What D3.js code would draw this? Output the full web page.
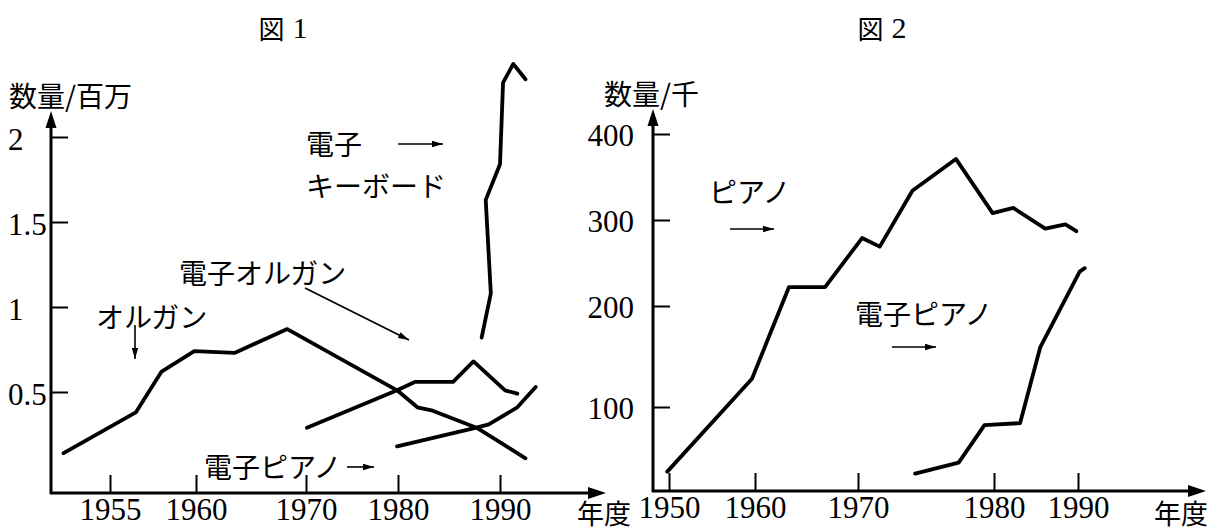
<!DOCTYPE html>
<html>
<head>
<meta charset="utf-8">
<script src="https://cdn.jsdelivr.net/npm/d3@7"></script>
<style>
  html, body { margin: 0; padding: 0; background: #fff; }
  svg { display: block; }
</style>
</head>
<body>
<svg id="chart" width="1223" height="531"></svg>
<script>
// ---------------- DATA ----------------
// 図1 (数量/百万)
const fig1XTicks = [1955, 1960, 1970, 1980, 1990];
const fig1YTicks = [0.5, 1, 1.5, 2];

const organYears = [1952.3, 1956.5, 1958.0, 1959.9, 1963.5, 1968.3, 1979.9, 1981.9, 1983.4, 1987.7, 1992.5];
const organVals  = [0.14, 0.38, 0.62, 0.74, 0.73, 0.87, 0.51, 0.41, 0.39, 0.29, 0.11];

const eOrganYears = [1970.1, 1979.9, 1981.7, 1985.4, 1987.4, 1990.5, 1991.7];
const eOrganVals  = [0.29, 0.51, 0.56, 0.56, 0.68, 0.51, 0.49];

const ePiano1Years = [1979.9, 1987.7, 1988.9, 1991.7, 1993.5];
const ePiano1Vals  = [0.18, 0.29, 0.31, 0.41, 0.53];

const keyboardYears = [1988.2, 1989.1, 1988.6, 1990.0, 1990.3, 1991.3, 1992.5];
const keyboardVals  = [0.82, 1.08, 1.63, 1.84, 2.32, 2.43, 2.34];

// 図2 (数量/千)
const fig2XTicks = [1950, 1960, 1970, 1980, 1990];
const fig2YTicks = [100, 200, 300, 400];

const pianoYears = [1949.8, 1959.65, 1963.3, 1966.8, 1970.3, 1971.6, 1974.0, 1977.2, 1979.9, 1982.3, 1986.1, 1988.5, 1989.8];
const pianoVals  = [36, 128, 222, 222, 279, 269, 334, 371, 308, 314, 290, 295, 287];

const ePiano2Years = [1974.2, 1977.4, 1979.3, 1983.1, 1985.5, 1990.2, 1990.8];
const ePiano2Vals  = [34, 45, 82, 84, 159, 240, 244];

// Text
const titles = ["図 1", "図 2"];
const yLabels = ["数量/百万", "数量/千"];
const xLabel = "年度";

// ---------------- DRAW ----------------
const svg = d3.select("#chart");
const JP = "'Noto Sans CJK JP', 'Noto Sans CJK SC', sans-serif";
const NUM = "'Liberation Serif', 'DejaVu Serif', serif";
const NUMSIZE = 31;

const defs = svg.append("defs");
defs.append("marker").attr("id", "arr")
  .attr("markerUnits", "userSpaceOnUse")
  .attr("markerWidth", 12).attr("markerHeight", 8)
  .attr("refX", 11).attr("refY", 4).attr("orient", "auto")
  .append("path").attr("d", "M0,0.8 L11,4 L0,7.2 Z").attr("fill", "#000");

function zip(xs, ys) { return xs.map((x, i) => [x, ys[i]]); }

function panel(cfg) {
  const g = svg.append("g");
  const { x, y, ox, oy, yTop, xEnd } = cfg;

  // axes lines
  g.append("line").attr("x1", ox).attr("y1", oy + 1).attr("x2", ox).attr("y2", yTop + 12)
    .attr("stroke", "#000").attr("stroke-width", 3);
  g.append("path").attr("d", `M${ox},${yTop} L${ox - 5.5},${yTop + 17} L${ox + 5.5},${yTop + 17} Z`).attr("fill", "#000");
  g.append("line").attr("x1", ox - 1).attr("y1", oy).attr("x2", xEnd - 12).attr("y2", oy)
    .attr("stroke", "#000").attr("stroke-width", 3);
  g.append("path").attr("d", `M${xEnd},${oy} L${xEnd - 18},${oy - 6} L${xEnd - 18},${oy + 6} Z`).attr("fill", "#000");

  // y axis ticks
  const ya = g.append("g").attr("transform", `translate(${ox},0)`)
    .call(d3.axisLeft(y).tickValues(cfg.yTicks).tickSize(-17).tickFormat(d => String(d)));
  ya.select(".domain").remove();
  ya.selectAll(".tick line").attr("stroke", "#000").attr("stroke-width", 2);
  ya.selectAll(".tick text")
    .attr("font-family", NUM).attr("font-size", NUMSIZE).attr("fill", "#000")
    .attr("x", cfg.yLabelX - ox).attr("text-anchor", cfg.yLabelAnchor)
    .attr("dy", null).attr("y", cfg.yLabelDy);

  // x axis ticks
  const xa = g.append("g").attr("transform", `translate(0,${oy})`)
    .call(d3.axisBottom(x).tickValues(cfg.xTicks).tickSize(-18).tickFormat(d3.format("d")));
  xa.select(".domain").remove();
  xa.selectAll(".tick line").attr("stroke", "#000").attr("stroke-width", 2);
  xa.selectAll(".tick text")
    .attr("font-family", NUM).attr("font-size", NUMSIZE).attr("fill", "#000")
    .attr("dy", null).attr("y", 27);

  // series
  const line = d3.line().x(d => x(d[0])).y(d => y(d[1]));
  cfg.series.forEach(s => {
    g.append("path").datum(s).attr("d", line)
      .attr("fill", "none").attr("stroke", "#000").attr("stroke-width", 3.8)
      .attr("stroke-linejoin", "round").attr("stroke-linecap", "round");
  });
  return g;
}

// Fig 1 scales (the printed axis is not evenly spaced, so use a piecewise scale)
const x1 = d3.scaleLinear().domain(fig1XTicks).range([110, 196, 306, 398, 500]);
const y1 = d3.scaleLinear().domain([0, 2]).range([477, 137]);
panel({
  x: x1, y: y1, ox: 51, oy: 493, yTop: 111, xEnd: 606,
  xTicks: fig1XTicks, yTicks: fig1YTicks,
  yLabelX: 8, yLabelAnchor: "start", yLabelDy: 12,
  series: [zip(organYears, organVals), zip(eOrganYears, eOrganVals),
           zip(ePiano1Years, ePiano1Vals), zip(keyboardYears, keyboardVals)]
});

// Fig 2 scales
const x2 = d3.scaleLinear().domain(fig2XTicks).range([669, 755, 858, 994, 1078]);
const y2 = d3.scaleLinear().domain(fig2YTicks).range([407, 306, 220, 134]);
panel({
  x: x2, y: y2, ox: 653, oy: 491, yTop: 109, xEnd: 1206,
  xTicks: fig2XTicks, yTicks: fig2YTicks,
  yLabelX: 634, yLabelAnchor: "end", yLabelDy: 11,
  series: [zip(pianoYears, pianoVals), zip(ePiano2Years, ePiano2Vals)]
});

// Text helpers
function jp(t, x, y, size = 28) {
  svg.append("text").attr("x", x).attr("y", y).attr("font-family", JP)
    .attr("font-size", size).attr("dominant-baseline", "central").attr("fill", "#000").text(t);
}
function arrow(x1_, y1_, x2_, y2_) {
  svg.append("line").attr("x1", x1_).attr("y1", y1_).attr("x2", x2_).attr("y2", y2_)
    .attr("stroke", "#000").attr("stroke-width", 1.6).attr("marker-end", "url(#arr)");
}
function title(t, cx) {
  const parts = t.split(" ");
  const tt = svg.append("text").attr("x", cx).attr("y", 27).attr("text-anchor", "middle")
    .attr("dominant-baseline", "central").attr("fill", "#000");
  tt.append("tspan").attr("font-family", JP).attr("font-size", 26).text(parts[0]);
  tt.append("tspan").attr("font-family", NUM).attr("font-size", 30).attr("dx", 8).text(parts[1]);
}

title(titles[0], 283);
title(titles[1], 882);

jp(yLabels[0], 9, 95);
jp(yLabels[1], 604, 93);

jp(xLabel, 577, 512, 27);
jp(xLabel, 1154, 512, 27);

// Fig 1 annotations
jp("電子", 306, 143);
arrow(398, 144, 443, 144);
jp("キーボード", 306, 185);
jp("電子オルガン", 179, 272);
arrow(305, 288, 409, 340);
jp("オルガン", 96, 316);
arrow(135, 325, 135, 359);
jp("電子ピアノ", 204, 466);
arrow(347, 467, 374, 467);

// Fig 2 annotations
jp("ピアノ", 709, 191);
arrow(730, 229, 774, 229);
jp("電子ピアノ", 855, 313);
arrow(892, 347, 936, 347);
</script>
</body>
</html>
